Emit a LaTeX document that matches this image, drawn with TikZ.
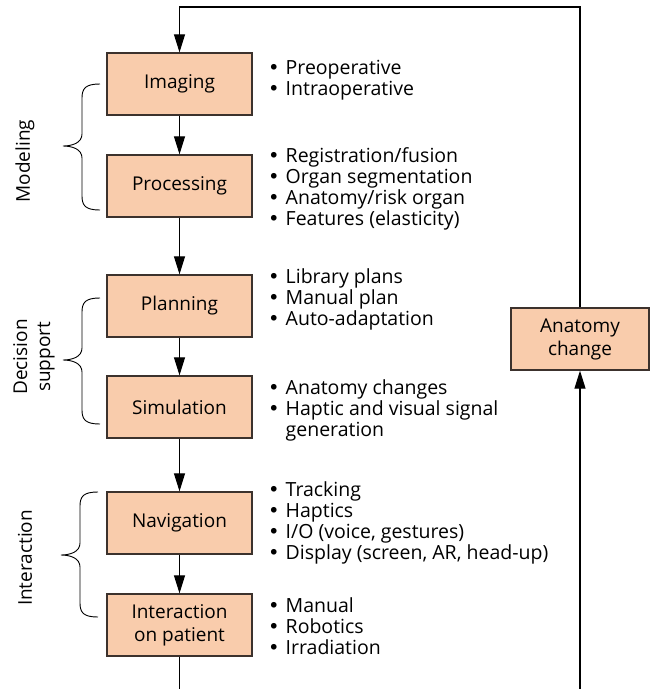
\documentclass[tikz,border=0pt]{standalone}
\usepackage{fontspec}
\setmainfont{Open Sans}
\newfontfamily\bufont{DejaVu Sans}
\usetikzlibrary{arrows.meta}
\definecolor{boxfill}{RGB}{249,204,172}
\definecolor{boxline}{RGB}{60,50,45}
\newcommand{\mybrace}[4]{% x-right, top, tip, bottom
  \draw[bracestyle] (#1,#2) .. controls (#1-14,#2) and (#1-18,#2+4) .. (#1-18,#2+14)
    -- (#1-18,#3-12) .. controls (#1-18,#3-3) and (#1-28,#3) .. (#1-37,#3)
    .. controls (#1-28,#3) and (#1-18,#3+3) .. (#1-18,#3+12)
    -- (#1-18,#4-14) .. controls (#1-18,#4-4) and (#1-14,#4) .. (#1,#4);}
\newcommand{\bu}{{\bufont •}}
\begin{document}
\begin{tikzpicture}[x=1pt,y=-1pt,
  stage/.style={draw=boxline, line width=1.3pt, fill=boxfill, minimum width=145pt, minimum height=62pt,
    inner sep=0pt, align=center, font=\fontsize{19}{23}\selectfont},
  bullets/.style={anchor=west, inner sep=0pt, font=\fontsize{19.5}{21}\selectfont},
  arr/.style={line width=1.1pt, -{Triangle[length=18pt,width=11pt]}},
  plain/.style={line width=1.1pt},
  bracestyle/.style={line width=0.9pt},
  grp/.style={rotate=90, align=center, font=\fontsize{19}{23}\selectfont}]
\useasboundingbox (0,0) rectangle (650,689);

\node[stage] (img) at (179.5,84) {\raisebox{-2pt}{Imaging}};
\node[stage] (proc) at (179.5,186) {\raisebox{-2pt}{Processing}};
\node[stage] (plan) at (179.5,306) {\raisebox{-2pt}{Planning}};
\node[stage] (sim) at (179.5,407) {\raisebox{-2pt}{Simulation}};
\node[stage] (nav) at (179.5,523) {\raisebox{-2pt}{Navigation}};
\node[stage] (inter) at (179.5,625) {Interaction\\on patient};
\node[stage, minimum width=138pt] (anat) at (580,339) {Anatomy\\change};

\coordinate (tl) at (179.5,7);
\coordinate (tr) at (580,7);
\coordinate (bl) at (179.5,689);
\coordinate (br) at (580,689);

\draw[arr] (anat.north) -- (tr) -- (tl) -- (img.north);
\draw[arr] (img) -- (proc);
\draw[arr] (proc) -- (plan);
\draw[arr] (plan) -- (sim);
\draw[arr] (sim) -- (nav);
\draw[arr] (nav) -- (inter);
\draw[plain] (inter.south) -- (bl);
\draw[arr] (br) -- (anat.south);

\newcommand{\bl}{\begin{tabular}{@{}l@{\hspace{6pt}}l@{}}}
\node[bullets] (limg) at (268,81) {\bl \bu&Preoperative\\ \bu&Intraoperative\end{tabular}};
\node[bullets] (lproc) at (268,189.5) {\bl \bu&Registration/fusion\\ \bu&Organ segmentation\\ \bu&Anatomy/risk organ\\ \bu&Features (elasticity)\end{tabular}};
\node[bullets] (lplan) at (268,300) {\bl \bu&Library plans\\ \bu&Manual plan\\ \bu&Auto-adaptation\end{tabular}};
\node[bullets] (lsim) at (268,411) {\bl \bu&Anatomy changes\\ \bu&Haptic and visual signal\\ &generation\end{tabular}};
\node[bullets] (lnav) at (268,523.5) {\bl \bu&Tracking\\ \bu&Haptics\\ \bu&I/O (voice, gestures)\\ \bu&Display (screen, AR, head-up)\end{tabular}};
\node[bullets] (lint) at (268,629) {\bl \bu&Manual\\ \bu&Robotics\\ \bu&Irradiation\end{tabular}};

\mybrace{100}{84}{146}{210}
\mybrace{100}{298}{360}{424}
\mybrace{98}{492}{555}{617}

\node[grp] (gmod) at (25,161) {Modeling};
\node[grp] (gdec) at (34,357) {Decision\\support};
\node[grp] (gint) at (25,558) {Interaction};
\end{tikzpicture}
\end{document}
